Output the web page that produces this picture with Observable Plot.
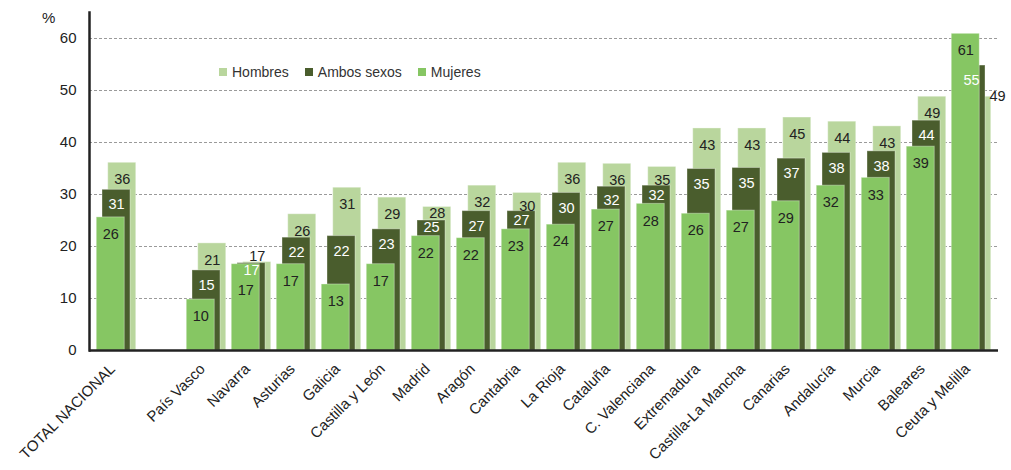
<!DOCTYPE html>
<html><head><meta charset="utf-8">
<script src="https://cdn.jsdelivr.net/npm/d3@7"></script>
<script src="https://cdn.jsdelivr.net/npm/@observablehq/plot@0.6"></script>
<style>
body{margin:0;background:#fff;font-family:"Liberation Sans",Arial,sans-serif;}
#wrap{position:relative;width:1011px;height:470px;}
#pct{position:absolute;left:42px;top:9px;font-size:15px;color:#222;}
#legend{position:absolute;left:219px;top:64px;display:flex;align-items:center;font-size:14px;color:#333;line-height:16px;}
.item{display:flex;align-items:center;margin-right:16px;}
.sw{width:8px;height:8px;margin-right:5px;}
</style></head><body>
<div id="wrap"><div id="pct">%</div><div id="legend"></div></div>
<script>
const categories = ["TOTAL NACIONAL", "País Vasco", "Navarra", "Asturias", "Galicia", "Castilla y León", "Madrid", "Aragón", "Cantabria", "La Rioja", "Cataluña", "C. Valenciana", "Extremadura", "Castilla-La Mancha", "Canarias", "Andalucía", "Murcia", "Baleares", "Ceuta y Melilla"];
const hombres = [36.1, 20.6, 17.0, 26.2, 31.3, 29.4, 27.6, 31.7, 30.3, 36.1, 35.9, 35.3, 42.7, 42.7, 44.8, 44.0, 43.1, 48.8, 48.8];
const ambos   = [30.9, 15.4, 16.8, 21.7, 22.0, 23.3, 25.0, 26.8, 26.8, 30.3, 31.5, 31.7, 34.9, 35.1, 36.9, 38.0, 38.3, 44.2, 54.8];
const mujeres = [25.6, 9.8, 16.6, 16.6, 12.7, 16.6, 22.0, 21.6, 23.3, 24.2, 27.1, 28.2, 26.3, 26.9, 28.7, 31.7, 33.2, 39.2, 60.9];
const seriesNames = ["Hombres", "Ambos sexos", "Mujeres"];
const seriesColors = ["#b9d69d", "#4a5d2d", "#86c663"];
const yTicks = [0, 10, 20, 30, 40, 50, 60];
const gridTicks = [10, 20, 30, 40, 50, 60];

// x domain: blank slot after the national total
const domain = [categories[0], "", ...categories.slice(1)];

// label anchors (in value units), nudged apart when bars are close
const rows = categories.map((c, i) => {
  const m = mujeres[i], a = ambos[i], h = hombres[i];
  let lm = m, la = a, lh = h;
  if (a >= m) {
    la = Math.min(Math.max(a, lm + 4.6), a + 1.5);
    lm = Math.min(lm, la - 3.5);
  }
  if (h >= a) lh = Math.max(h, la + 3.1);
  return {region: c, h, a, m, lm, la, lh};
});

const fmt = v => String(Math.round(v));
const OFF = 5.75;
const FS = 14.5;
const barStyle = {stroke: "white", strokeOpacity: 0.35, strokeWidth: 1};

const chart = Plot.plot({
  width: 1011, height: 470,
  marginTop: 12, marginBottom: 120, marginLeft: 89, marginRight: 13,
  style: {fontFamily: "'Liberation Sans', Arial, sans-serif", color: "#222", background: "white"},
  x: {type: "band", domain, paddingInner: 0.374, paddingOuter: 0.187, label: null},
  y: {domain: [0, 65], label: null},
  marks: [
    Plot.ruleY(gridTicks, {stroke: "#9a9a9a", strokeDasharray: "3,2", strokeWidth: 1}),
    Plot.barY(rows, {x: "region", y: "h", fill: seriesColors[0], dx: OFF, ...barStyle}),
    Plot.barY(rows, {x: "region", y: "a", fill: seriesColors[1], ...barStyle}),
    Plot.barY(rows, {x: "region", y: "m", fill: seriesColors[2], dx: -OFF, ...barStyle}),
    Plot.text(rows.filter(d => d.h >= d.a), {x: "region", y: "lh", text: d => fmt(d.h), dx: OFF, dy: 17, fill: "#222", fontSize: FS, lineAnchor: "middle"}),
    Plot.text(rows.filter(d => d.h < d.a), {x: "region", y: "h", text: d => fmt(d.h), dx: 18, dy: 0, fill: "#222", fontSize: FS, lineAnchor: "middle", textAnchor: "start"}),
    Plot.text(rows, {x: "region", y: "la", text: d => fmt(d.a), dy: 15, fill: "white", fontSize: FS, lineAnchor: "middle"}),
    Plot.text(rows, {x: "region", y: "lm", text: d => fmt(d.m), dx: -OFF, dy: 17, fill: "#222", fontSize: FS, lineAnchor: "middle"}),
    Plot.ruleY([0], {stroke: "#222", strokeWidth: 2.5}),
    Plot.frame({anchor: "left", stroke: "#222", strokeWidth: 2.5}),
    Plot.axisY({ticks: yTicks, tickSize: 0, tickPadding: 13, fontSize: 15, label: null}),
    Plot.axisX({tickSize: 0, tickPadding: 16, dx: -4, tickRotate: -45, fontSize: 15, label: null})
  ]
});
document.getElementById("wrap").appendChild(chart);
chart.style.position = "absolute"; chart.style.left = "0"; chart.style.top = "0";
document.getElementById("legend").style.zIndex = 2;
document.getElementById("pct").style.zIndex = 2;

const legend = document.getElementById("legend");
seriesNames.forEach((n, i) => {
  const it = document.createElement("div"); it.className = "item";
  const sw = document.createElement("div"); sw.className = "sw"; sw.style.background = seriesColors[i];
  const t = document.createElement("span"); t.textContent = n;
  it.appendChild(sw); it.appendChild(t); legend.appendChild(it);
});
</script>
</body></html>
